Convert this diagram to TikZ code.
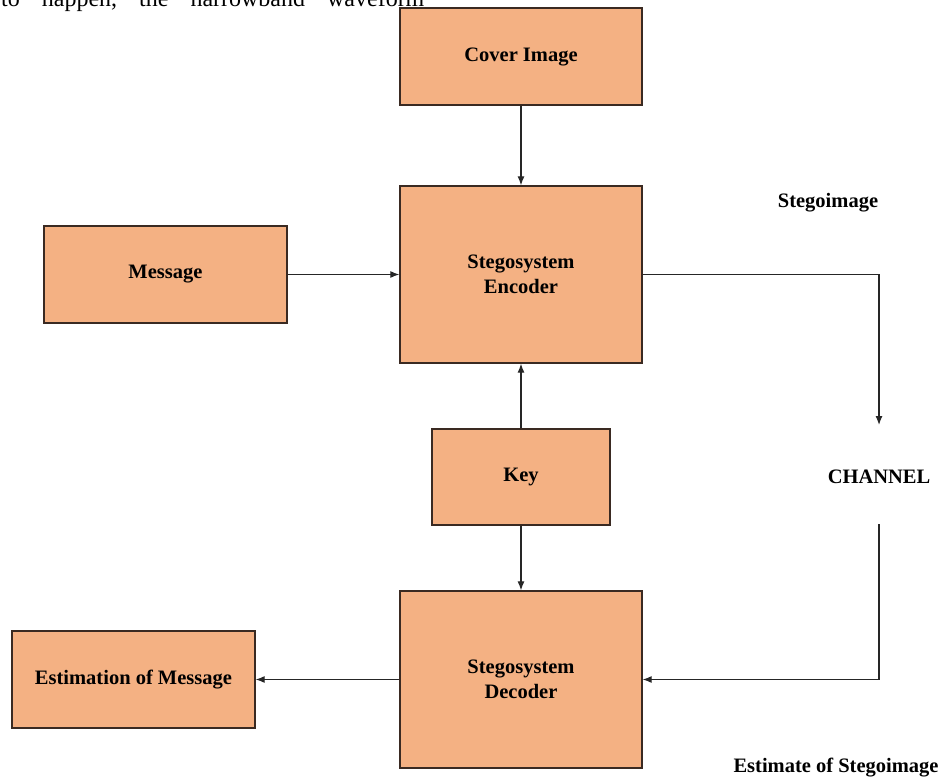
\documentclass[tikz,border=0pt]{standalone}
\usepackage{fontspec}
\setmainfont{Liberation Serif}
\usetikzlibrary{arrows.meta}
\definecolor{boxfill}{HTML}{F4B183}
\definecolor{boxline}{HTML}{3A2A22}
\tikzset{
  blk/.style={draw=boxline, line width=1.3pt, fill=boxfill, inner sep=0pt,
    font=\fontsize{20.5}{24.5}\selectfont\bfseries, align=center},
  conn/.style={draw=black!85, line width=1.2pt},
  arr/.style={conn, -{Latex[length=9pt,width=7pt]}},
  lbl/.style={font=\fontsize{20.5}{24.5}\selectfont\bfseries, inner sep=0pt}
}
\begin{document}
\begin{tikzpicture}[x=1pt,y=-1pt]
\useasboundingbox (0,0) rectangle (938,778);
\fill[white] (0,0) rectangle (938,778);
% page text fragment at top (cut off by the page edge, as in the reference)
\node[anchor=base west, inner sep=0pt, font=\fontsize{24}{28}\selectfont] (toptext) at (1,7) {to\hspace{22pt}happen,\hspace{22pt}the\hspace{22pt}narrowband\hspace{22pt}waveform};
% boxes
\node[blk, minimum width=242pt, minimum height=97pt] (cover) at (521,56.5) {Cover Image};
\node[blk, minimum width=242pt, minimum height=177pt] (enc) at (521,274.5) {Stegosystem\\Encoder};
\node[blk, minimum width=243pt, minimum height=97pt] (msg) at (165.5,274.5) {Message};
\node[blk, minimum width=178pt, minimum height=96pt] (key) at (521,477) {Key};
\node[blk, minimum width=242pt, minimum height=177pt] (dec) at (521,679.5) {Stegosystem\\Decoder};
\node[blk, minimum width=243pt, minimum height=97pt] (est) at (133.5,679.5) {Estimation of Message};
% labels
\node[lbl] (stegoimg) at (828,203) {Stegoimage};
\node[lbl] (channel) at (879,477) {CHANNEL};
\node[lbl] (eststego) at (836,768) {Estimate of Stegoimage};
\coordinate (c1) at (879,274.5);
\coordinate (c2) at (879,425);
\coordinate (c3) at (879,524);
\coordinate (c4) at (879,679.5);
% connectors
\draw[arr] (cover.south) -- (enc.north);
\draw[arr] (msg.east) -- (enc.west);
\draw[arr] (key.north) -- (enc.south);
\draw[arr] (key.south) -- (dec.north);
\draw[arr] (enc.east) -- (c1) -- (c2);
\draw[arr] (c3) -- (c4) -- (dec.east);
\draw[arr] (dec.west) -- (est.east);
\end{tikzpicture}
\end{document}
